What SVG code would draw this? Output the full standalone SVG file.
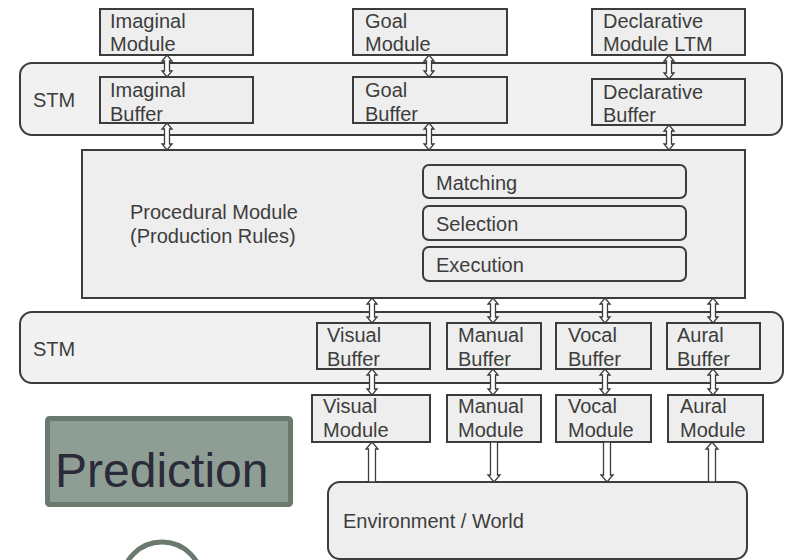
<svg xmlns="http://www.w3.org/2000/svg" width="788" height="560" viewBox="0 0 788 560">
  <style>
    .box { fill: #eeeeee; stroke: #3c3c3c; stroke-width: 2; }
    .bar { fill: #f1f1f1; stroke: #3c3c3c; stroke-width: 2; }
    .stage { fill: #eeeeee; stroke: #3c3c3c; stroke-width: 2; }
    .lbl { font-family: "Liberation Sans", Arial, sans-serif; font-size: 20px; fill: #3d3d3d; }
    .arrow { fill: #ffffff; stroke: #3c3c3c; stroke-width: 1.3; stroke-linejoin: miter; }
    .pred-box { fill: #8e9e94; stroke: #6b7a6e; stroke-width: 5; }
    .pred-txt { font-family: "Liberation Sans", Arial, sans-serif; font-size: 48px; fill: #2a2a38; }
  </style>

  <!-- short-term memory bands -->
  <g id="stm-top">
    <rect class="bar" x="20" y="63" width="762" height="72" rx="12"/>
    <text class="lbl" x="33" y="107">STM</text>
  </g>
  <g id="stm-bottom">
    <rect class="bar" x="20" y="312" width="763" height="71" rx="12"/>
    <text class="lbl" x="33" y="356">STM</text>
  </g>

  <!-- upper modules -->
  <g id="imaginal-module">
    <rect class="box" x="100" y="9" width="153" height="46"/>
    <text class="lbl" x="110" y="28">Imaginal</text>
    <text class="lbl" x="110" y="51">Module</text>
  </g>
  <g id="goal-module">
    <rect class="box" x="353" y="9" width="154" height="46"/>
    <text class="lbl" x="365" y="28">Goal</text>
    <text class="lbl" x="365" y="51">Module</text>
  </g>
  <g id="declarative-module">
    <rect class="box" x="592" y="9" width="153" height="46"/>
    <text class="lbl" x="603" y="28">Declarative</text>
    <text class="lbl" x="603" y="51">Module LTM</text>
  </g>

  <!-- upper buffers -->
  <g id="imaginal-buffer">
    <rect class="box" x="100" y="77" width="153" height="46"/>
    <text class="lbl" x="110" y="97">Imaginal</text>
    <text class="lbl" x="110" y="121">Buffer</text>
  </g>
  <g id="goal-buffer">
    <rect class="box" x="353" y="77" width="154" height="46"/>
    <text class="lbl" x="365" y="97">Goal</text>
    <text class="lbl" x="365" y="121">Buffer</text>
  </g>
  <g id="declarative-buffer">
    <rect class="box" x="592" y="79" width="153" height="46"/>
    <text class="lbl" x="603" y="99">Declarative</text>
    <text class="lbl" x="603" y="122">Buffer</text>
  </g>

  <!-- procedural module with its three stages -->
  <g id="procedural-module">
    <rect class="box" x="82" y="150" width="663" height="148"/>
    <text class="lbl" x="130" y="219">Procedural Module</text>
    <text class="lbl" x="130" y="243">(Production Rules)</text>
  </g>
  <g id="matching">
    <rect class="stage" x="423" y="165" width="263" height="33" rx="6"/>
    <text class="lbl" x="436" y="190">Matching</text>
  </g>
  <g id="selection">
    <rect class="stage" x="423" y="206" width="263" height="34" rx="6"/>
    <text class="lbl" x="436" y="231">Selection</text>
  </g>
  <g id="execution">
    <rect class="stage" x="423" y="247" width="263" height="34" rx="6"/>
    <text class="lbl" x="436" y="272">Execution</text>
  </g>

  <!-- perceptual / motor buffers -->
  <g id="visual-buffer">
    <rect class="box" x="317" y="323" width="113" height="46"/>
    <text class="lbl" x="327" y="342">Visual</text>
    <text class="lbl" x="327" y="366">Buffer</text>
  </g>
  <g id="manual-buffer">
    <rect class="box" x="447" y="323" width="94" height="46"/>
    <text class="lbl" x="458" y="342">Manual</text>
    <text class="lbl" x="458" y="366">Buffer</text>
  </g>
  <g id="vocal-buffer">
    <rect class="box" x="556" y="323" width="95" height="46"/>
    <text class="lbl" x="568" y="342">Vocal</text>
    <text class="lbl" x="568" y="366">Buffer</text>
  </g>
  <g id="aural-buffer">
    <rect class="box" x="667" y="323" width="93" height="46"/>
    <text class="lbl" x="677" y="342">Aural</text>
    <text class="lbl" x="677" y="366">Buffer</text>
  </g>

  <!-- perceptual / motor modules -->
  <g id="visual-module">
    <rect class="box" x="312" y="395" width="118" height="47"/>
    <text class="lbl" x="323" y="413">Visual</text>
    <text class="lbl" x="323" y="437">Module</text>
  </g>
  <g id="manual-module">
    <rect class="box" x="447" y="395" width="94" height="47"/>
    <text class="lbl" x="458" y="413">Manual</text>
    <text class="lbl" x="458" y="437">Module</text>
  </g>
  <g id="vocal-module">
    <rect class="box" x="556" y="395" width="95" height="47"/>
    <text class="lbl" x="568" y="413">Vocal</text>
    <text class="lbl" x="568" y="437">Module</text>
  </g>
  <g id="aural-module">
    <rect class="box" x="668" y="395" width="95" height="47"/>
    <text class="lbl" x="680" y="413">Aural</text>
    <text class="lbl" x="680" y="437">Module</text>
  </g>

  <!-- environment -->
  <g id="environment">
    <rect class="box" x="328" y="482" width="419" height="77" rx="12"/>
    <text class="lbl" x="343" y="528">Environment / World</text>
  </g>

  <!-- hollow block arrows between components -->
  <g id="connectors">
    <!-- double-headed: module <-> buffer -->
    <polygon class="arrow" points="167,55 172,61 169.5,61 169.5,71 172,71 167,77 162,71 164.5,71 164.5,61 162,61"/>
    <polygon class="arrow" points="429,55 434,61 431.5,61 431.5,71 434,71 429,77 424,71 426.5,71 426.5,61 424,61"/>
    <polygon class="arrow" points="669,55 674,61 671.5,61 671.5,73 674,73 669,79 664,73 666.5,73 666.5,61 664,61"/>
    <!-- double-headed: buffer <-> procedural -->
    <polygon class="arrow" points="167,123 172,129 169.5,129 169.5,144 172,144 167,150 162,144 164.5,144 164.5,129 162,129"/>
    <polygon class="arrow" points="429,123 434,129 431.5,129 431.5,144 434,144 429,150 424,144 426.5,144 426.5,129 424,129"/>
    <polygon class="arrow" points="669,125 674,131 671.5,131 671.5,144 674,144 669,150 664,144 666.5,144 666.5,131 664,131"/>
    <!-- double-headed: procedural <-> lower buffers -->
    <polygon class="arrow" points="372,298 377,304 374.5,304 374.5,317 377,317 372,323 367,317 369.5,317 369.5,304 367,304"/>
    <polygon class="arrow" points="493,298 498,304 495.5,304 495.5,317 498,317 493,323 488,317 490.5,317 490.5,304 488,304"/>
    <polygon class="arrow" points="605,298 610,304 607.5,304 607.5,317 610,317 605,323 600,317 602.5,317 602.5,304 600,304"/>
    <polygon class="arrow" points="713,298 718,304 715.5,304 715.5,317 718,317 713,323 708,317 710.5,317 710.5,304 708,304"/>
    <!-- double-headed: lower buffers <-> lower modules -->
    <polygon class="arrow" points="372,369 377,375 374.5,375 374.5,389 377,389 372,395 367,389 369.5,389 369.5,375 367,375"/>
    <polygon class="arrow" points="493,369 498,375 495.5,375 495.5,389 498,389 493,395 488,389 490.5,389 490.5,375 488,375"/>
    <polygon class="arrow" points="605,369 610,375 607.5,375 607.5,389 610,389 605,395 600,389 602.5,389 602.5,375 600,375"/>
    <polygon class="arrow" points="713,369 718,375 715.5,375 715.5,389 718,389 713,395 708,389 710.5,389 710.5,375 708,375"/>
    <!-- single-headed: environment -> perception -->
    <polygon class="arrow" points="372,442 378,449 375.5,449 375.5,482 368.5,482 368.5,449 366,449"/>
    <polygon class="arrow" points="712,442 718,449 715.5,449 715.5,482 708.5,482 708.5,449 706,449"/>
    <!-- single-headed: motor -> environment -->
    <polygon class="arrow" points="494,482 500,475 497.5,475 497.5,442 490.5,442 490.5,475 488,475"/>
    <polygon class="arrow" points="607,482 613,475 610.5,475 610.5,442 603.5,442 603.5,475 601,475"/>
  </g>

  <!-- prediction overlay -->
  <g id="prediction">
    <rect class="pred-box" x="47.5" y="418.5" width="243" height="86" rx="2"/>
    <text class="pred-txt" x="55" y="487">Prediction</text>
  </g>
  <g id="loop-mark">
    <circle cx="162" cy="582" r="40" fill="none" stroke="#6b7a6e" stroke-width="5"/>
  </g>
</svg>
